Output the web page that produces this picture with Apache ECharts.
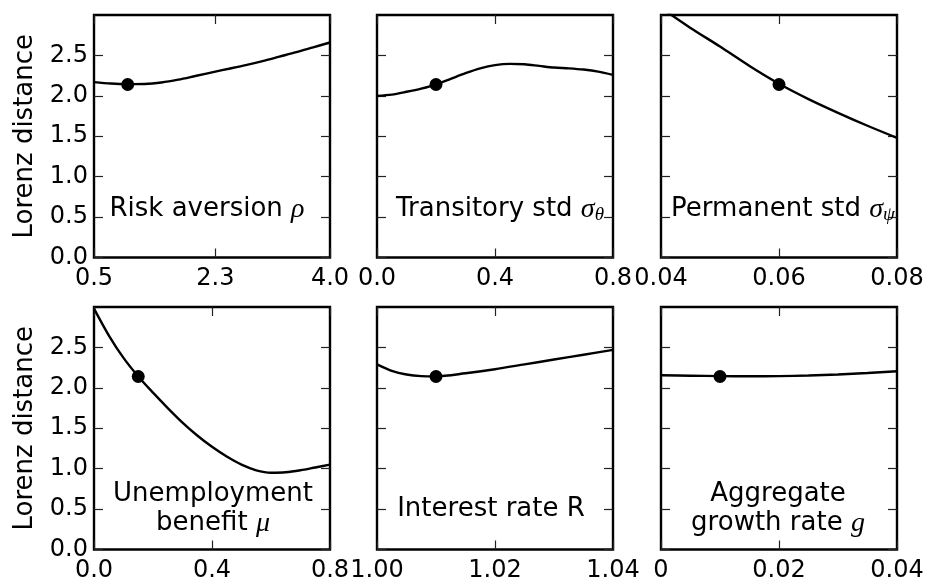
<!DOCTYPE html>
<html>
<head>
<meta charset="utf-8">
<script src="https://cdn.jsdelivr.net/npm/echarts@6/dist/echarts.min.js"></script>
<style>html,body{margin:0;padding:0;background:#fff;}#c{width:930px;height:584px;}</style>
</head>
<body>
<div id="c"></div>
<script>
// ---- data ----
const rhoX = [0.5, 0.75, 1.0, 1.25, 1.5, 1.75, 2.0, 2.3, 2.5, 2.75, 3.0, 3.25, 3.5, 3.75, 4.0];
const rhoY = [2.17, 2.152, 2.145, 2.147, 2.165, 2.2, 2.245, 2.3, 2.335, 2.38, 2.43, 2.485, 2.54, 2.6, 2.66];

const thetaX = [0, 0.05, 0.1, 0.15, 0.2, 0.25, 0.3, 0.35, 0.4, 0.45, 0.5, 0.55, 0.6, 0.65, 0.7, 0.75, 0.8];
const thetaY = [2.0, 2.015, 2.05, 2.09, 2.14, 2.21, 2.28, 2.34, 2.38, 2.395, 2.39, 2.37, 2.35, 2.34, 2.325, 2.3, 2.26];

const psiX = [0.04, 0.045, 0.05, 0.055, 0.06, 0.065, 0.07, 0.075, 0.08];
const psiY = [3.09, 2.84, 2.61, 2.37, 2.15, 1.96, 1.79, 1.63, 1.48];

const muX = [0, 0.05, 0.1, 0.15, 0.2, 0.25, 0.3, 0.35, 0.4, 0.45, 0.5, 0.55, 0.6, 0.65, 0.7, 0.75, 0.8];
const muY = [2.98, 2.65, 2.37, 2.14, 1.94, 1.75, 1.57, 1.41, 1.27, 1.15, 1.05, 0.98, 0.95, 0.955, 0.98, 1.015, 1.05];

const rX = [1.0, 1.0025, 1.005, 1.0075, 1.01, 1.015, 1.02, 1.025, 1.03, 1.035, 1.04];
const rY = [2.29, 2.21, 2.165, 2.145, 2.142, 2.18, 2.23, 2.29, 2.35, 2.41, 2.47];

const gX = [0, 0.005, 0.01, 0.015, 0.02, 0.025, 0.03, 0.035, 0.04];
const gY = [2.155, 2.15, 2.145, 2.143, 2.145, 2.152, 2.165, 2.183, 2.205];

const dotX = [1.0, 0.2, 0.06, 0.15, 1.01, 0.01];
const dotY = [2.14, 2.14, 2.14, 2.14, 2.14, 2.14];

const xMin = [0.5, 0.0, 0.04, 0.0, 1.0, 0.0];
const xMax = [4.0, 0.8, 0.08, 0.8, 1.04, 0.04];
const xTicks = [[0.5, 2.3, 4.0], [0.0, 0.4, 0.8], [0.04, 0.06, 0.08], [0.0, 0.4, 0.8], [1.0, 1.02, 1.04], [0, 0.02, 0.04]];
const xTickLabels = [['0.5', '2.3', '4.0'], ['0.0', '0.4', '0.8'], ['0.04', '0.06', '0.08'], ['0.0', '0.4', '0.8'], ['1.00', '1.02', '1.04'], ['0', '0.02', '0.04']];
const yTicks = [0, 0.5, 1.0, 1.5, 2.0, 2.5];
const yTickLabels = ['0.0', '0.5', '1.0', '1.5', '2.0', '2.5'];
const yLabel = 'Lorenz distance';
const panelTexts = [
  'Risk aversion {m|ρ}',
  'Transitory std {m|σ}{s|θ}',
  'Permanent std {m|σ}{s|ψ}',
  'Unemployment\nbenefit {m|μ}',
  'Interest rate R',
  'Aggregate\ngrowth rate {m|g}'
];
const seriesX = [rhoX, thetaX, psiX, muX, rX, gX];
const seriesY = [rhoY, thetaY, psiY, muY, rY, gY];

// ---- layout ----
const colLeft = [94, 377, 661];
const rowTop = [15, 307];
const W = 236, H = 242.5;
const textPos = [[207, 195], [500, 195], [783, 195], [213, 480], [491, 495], [778, 480]];

const font = 'DejaVu Sans';
const grids = [], xAxes = [], yAxes = [], series = [], titles = [];
const tickStyle = {show: true, inside: true, length: 9, lineStyle: {color: '#222', width: 1.2}};
const noLine = {show: false, onZero: false};

function labelFmt(ticks, labs) {
  return function (v) { const k = ticks.findIndex(t => Math.abs(t - v) < 1e-9); return k >= 0 ? labs[k] : ''; };
}

for (let i = 0; i < 6; i++) {
  const r = Math.floor(i / 3), c = i % 3;
  grids.push({left: colLeft[c], top: rowTop[r], width: W, height: H, show: true,
    borderColor: '#000', borderWidth: 2.4, backgroundColor: 'transparent', containLabel: false});
  const ticks = xTicks[i], labs = xTickLabels[i];
  xAxes.push({type: 'value', gridIndex: i, position: 'bottom', min: xMin[i], max: xMax[i],
    splitLine: {show: false}, axisLine: noLine,
    axisTick: Object.assign({}, tickStyle, {customValues: ticks}),
    axisLabel: {show: true, customValues: ticks, margin: 9, color: '#000', fontFamily: font, fontSize: 24,
      showMinLabel: true, showMaxLabel: true, formatter: labelFmt(ticks, labs)}});
  xAxes.push({type: 'value', gridIndex: i, position: 'top', min: xMin[i], max: xMax[i],
    splitLine: {show: false}, axisLine: noLine,
    axisTick: Object.assign({}, tickStyle, {customValues: ticks}), axisLabel: {show: false}});
  const yl = {type: 'value', gridIndex: i, position: 'left', min: 0, max: 3.0, interval: 0.5,
    splitLine: {show: false}, axisLine: noLine,
    axisTick: Object.assign({}, tickStyle, {customValues: yTicks}),
    axisLabel: {show: c === 0, customValues: yTicks, margin: 6, color: '#000', fontFamily: font, fontSize: 24,
      formatter: labelFmt(yTicks, yTickLabels)}};
  if (c === 0) {
    yl.name = yLabel; yl.nameLocation = 'middle'; yl.nameGap = 56;
    yl.nameTextStyle = {fontFamily: font, fontSize: 26, color: '#000'};
  }
  yAxes.push(yl);
  yAxes.push({type: 'value', gridIndex: i, position: 'right', min: 0, max: 3.0, interval: 0.5,
    splitLine: {show: false}, axisLine: noLine,
    axisTick: Object.assign({}, tickStyle, {customValues: yTicks}), axisLabel: {show: false}});

  series.push({type: 'line', xAxisIndex: 2 * i, yAxisIndex: 2 * i, smooth: 0.3, symbol: 'none', clip: true,
    lineStyle: {color: '#000', width: 2.4}, data: seriesX[i].map((x, k) => [x, seriesY[i][k]]), z: 3});
  series.push({type: 'scatter', xAxisIndex: 2 * i, yAxisIndex: 2 * i, symbolSize: 13,
    itemStyle: {color: '#000', opacity: 1}, data: [[dotX[i], dotY[i]]], z: 4});

  titles.push({text: panelTexts[i], left: textPos[i][0], top: textPos[i][1], textAlign: 'center', padding: 0,
    textStyle: {fontFamily: font, fontSize: 26, fontWeight: 'normal', color: '#000', lineHeight: 29,
      rich: {
        m: {fontFamily: 'Liberation Serif', fontStyle: 'italic', fontSize: 28, color: '#000', lineHeight: 29},
        s: {fontFamily: 'Liberation Serif', fontStyle: 'italic', fontSize: 19, color: '#000', lineHeight: 14, verticalAlign: 'bottom'}
      }}});
}

const chart = echarts.init(document.getElementById('c'), null, {renderer: 'canvas'});
chart.setOption({
  animation: false,
  backgroundColor: '#fff',
  title: titles,
  grid: grids,
  xAxis: xAxes,
  yAxis: yAxes,
  series: series
});
</script>
</body>
</html>
